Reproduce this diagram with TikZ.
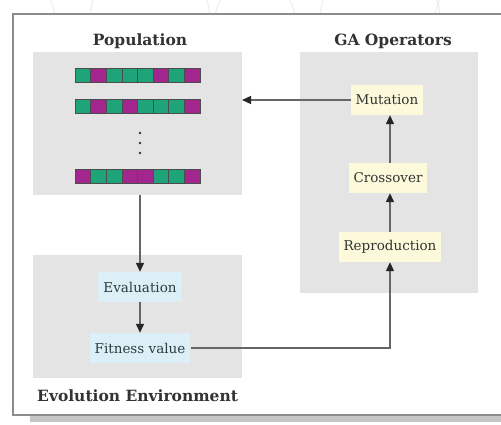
\documentclass[tikz,border=0pt]{standalone}
\usepackage{fontspec}
\setmainfont{DejaVu Serif}
\usetikzlibrary{arrows.meta}
\definecolor{panel}{HTML}{E4E4E4}
\definecolor{opfill}{HTML}{FDFADC}
\definecolor{envfill}{HTML}{DCEEF6}
\definecolor{gene}{HTML}{1FA47A}
\definecolor{allele}{HTML}{A2268E}
\definecolor{txt}{HTML}{333333}
\definecolor{frameline}{HTML}{8C8C8C}
\tikzset{
  panelbox/.style={fill=panel, draw=none},
  title/.style={font=\bfseries\fontsize{15.5}{18}\selectfont, text=txt, inner sep=0pt},
  opbox/.style={fill=opfill, draw=none, font=\fontsize{13.5}{15}\selectfont, text=txt, inner xsep=5pt, inner ysep=0pt, minimum height=30pt},
  envbox/.style={fill=envfill, draw=none, font=\fontsize{13.5}{15}\selectfont, text=txt!85!teal, inner xsep=5pt, inner ysep=0pt, minimum height=30pt},
  flow/.style={draw=black!60, line width=1.3pt, -{Triangle[length=9pt,width=8pt,color=black!85]}},
  cell/.style={draw=black!70, line width=0.6pt},
}
\begin{document}
\begin{tikzpicture}[x=1pt,y=-1pt]
\useasboundingbox (0,0) rectangle (501,425);
\fill[white] (0,0) rectangle (501,425);
% faint decorative rings along the top
\begin{scope}
  \clip (0,0) rectangle (501,14);
  \foreach \cx/\r in {10/45, 150/60, 255/40, 380/60, 480/45}
    \draw[gray!14, line width=1pt] (\cx,20) circle (\r);
\end{scope}
% frame with drop shadow
\fill[gray!45] (30,414) rectangle (501,422);
\fill[white] (13,14) rectangle (505,415);
\draw[frameline, line width=1.5pt] (505,14) -- (13,14) -- (13,415) -- (505,415);

% panels
\fill[panelbox] (33,52) rectangle (242,195);
\fill[panelbox] (300,52) rectangle (478,293);
\fill[panelbox] (33,255) rectangle (242,378);

\node[title] (poptitle) at (140,41) {Population};
\node[title] (gatitle) at (393,41) {GA Operators};
\node[title, anchor=west] (envtitle) at (37,396) {Evolution Environment};

% chromosomes (g = green gene, m = magenta gene)
\foreach \row/\y in {{g,m,g,g,g,m,g,m}/68, {g,m,g,m,g,g,g,m}/99, {m,g,g,m,m,g,g,m}/169}{
  \foreach \c [count=\i from 0] in \row {
    \pgfmathsetmacro{\xa}{75+\i*15.625}
    \if m\c
      \filldraw[cell, fill=allele] (\xa,\y) rectangle ++(15.625,14);
    \else
      \filldraw[cell, fill=gene] (\xa,\y) rectangle ++(15.625,14);
    \fi
  }
}
\foreach \y in {133,143,153} \fill[txt] (140,\y) circle (1.4pt);
\coordinate (popbottom) at (140,195);
\coordinate (popright) at (242,100);

% operators
\node[opbox] (mut) at (387,100) {Mutation};
\node[opbox] (cross) at (388,178) {Crossover};
\node[opbox] (repro) at (390,247) {Reproduction};

% evolution environment
\node[envbox] (eval) at (140,287) {Evaluation};
\node[envbox] (fit) at (140,348) {Fitness value};

% connectors
\draw[flow] (popbottom) -- (eval.north);
\draw[flow] (eval) -- (fit);
\draw[flow] (fit.east) -| (repro.south -| 390,0);
\draw[flow] (repro.north -| 390,0) -- (cross.south -| 390,0);
\draw[flow] (cross.north -| 390,0) -- (mut.south -| 390,0);
\draw[flow] (mut.west) -- (popright);
\end{tikzpicture}
\end{document}
